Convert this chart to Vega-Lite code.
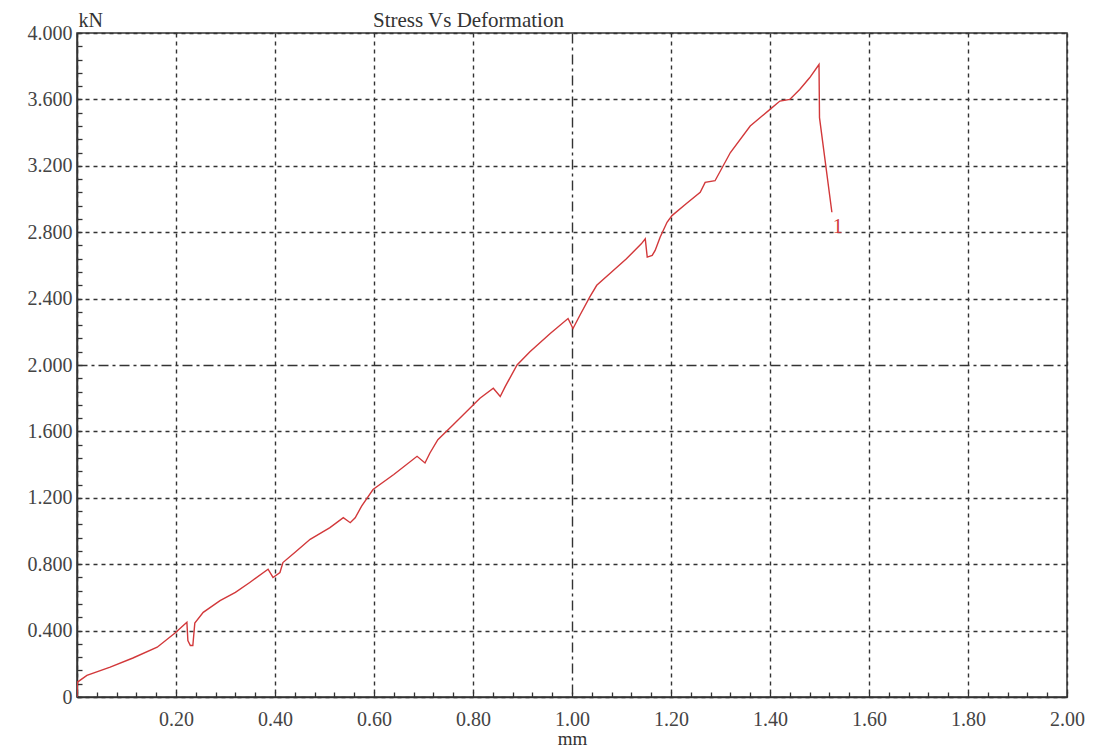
{
  "$schema": "https://vega.github.io/schema/vega-lite/v6.json",
  "width": 990,
  "height": 664,
  "autosize": "none",
  "padding": {"left": 77, "top": 33, "right": 34, "bottom": 54},
  "background": "white",
  "config": {
    "view": {"stroke": "#333333", "strokeWidth": 1.5},
    "font": "Liberation Serif"
  },
  "title": {
    "text": "Stress Vs Deformation",
    "anchor": "start",
    "dx": 346,
    "dy": 21,
    "offset": 0,
    "font": "Liberation Serif",
    "fontSize": 21,
    "fontWeight": "normal",
    "color": "#333333"
  },
  "datasets": {
    "curve": [
      {"i": 0, "mm": 0, "kN": 0},
      {"i": 1, "mm": 0.001, "kN": 0.09},
      {"i": 2, "mm": 0.02, "kN": 0.13},
      {"i": 3, "mm": 0.067, "kN": 0.18},
      {"i": 4, "mm": 0.113, "kN": 0.235},
      {"i": 5, "mm": 0.162, "kN": 0.3},
      {"i": 6, "mm": 0.198, "kN": 0.385},
      {"i": 7, "mm": 0.222, "kN": 0.45},
      {"i": 8, "mm": 0.224, "kN": 0.34},
      {"i": 9, "mm": 0.229, "kN": 0.31},
      {"i": 10, "mm": 0.234, "kN": 0.31},
      {"i": 11, "mm": 0.238, "kN": 0.445},
      {"i": 12, "mm": 0.255, "kN": 0.51},
      {"i": 13, "mm": 0.289, "kN": 0.58},
      {"i": 14, "mm": 0.32, "kN": 0.63},
      {"i": 15, "mm": 0.349, "kN": 0.69},
      {"i": 16, "mm": 0.386, "kN": 0.77},
      {"i": 17, "mm": 0.396, "kN": 0.72},
      {"i": 18, "mm": 0.41, "kN": 0.75},
      {"i": 19, "mm": 0.416, "kN": 0.81},
      {"i": 20, "mm": 0.44, "kN": 0.87},
      {"i": 21, "mm": 0.471, "kN": 0.95},
      {"i": 22, "mm": 0.511, "kN": 1.02},
      {"i": 23, "mm": 0.538, "kN": 1.08},
      {"i": 24, "mm": 0.552, "kN": 1.05},
      {"i": 25, "mm": 0.562, "kN": 1.08},
      {"i": 26, "mm": 0.575, "kN": 1.15},
      {"i": 27, "mm": 0.598, "kN": 1.25},
      {"i": 28, "mm": 0.64, "kN": 1.34},
      {"i": 29, "mm": 0.687, "kN": 1.45},
      {"i": 30, "mm": 0.703, "kN": 1.41},
      {"i": 31, "mm": 0.713, "kN": 1.47},
      {"i": 32, "mm": 0.729, "kN": 1.55},
      {"i": 33, "mm": 0.76, "kN": 1.64},
      {"i": 34, "mm": 0.814, "kN": 1.8},
      {"i": 35, "mm": 0.841, "kN": 1.86},
      {"i": 36, "mm": 0.855, "kN": 1.81},
      {"i": 37, "mm": 0.865, "kN": 1.87},
      {"i": 38, "mm": 0.889, "kN": 2.0},
      {"i": 39, "mm": 0.915, "kN": 2.08},
      {"i": 40, "mm": 0.956, "kN": 2.19},
      {"i": 41, "mm": 0.992, "kN": 2.28},
      {"i": 42, "mm": 1.002, "kN": 2.22},
      {"i": 43, "mm": 1.016, "kN": 2.3},
      {"i": 44, "mm": 1.036, "kN": 2.41},
      {"i": 45, "mm": 1.05, "kN": 2.48},
      {"i": 46, "mm": 1.08, "kN": 2.56},
      {"i": 47, "mm": 1.11, "kN": 2.64},
      {"i": 48, "mm": 1.14, "kN": 2.73},
      {"i": 49, "mm": 1.148, "kN": 2.76},
      {"i": 50, "mm": 1.152, "kN": 2.65},
      {"i": 51, "mm": 1.162, "kN": 2.66},
      {"i": 52, "mm": 1.168, "kN": 2.69},
      {"i": 53, "mm": 1.178, "kN": 2.77},
      {"i": 54, "mm": 1.192, "kN": 2.86},
      {"i": 55, "mm": 1.202, "kN": 2.9},
      {"i": 56, "mm": 1.23, "kN": 2.97},
      {"i": 57, "mm": 1.259, "kN": 3.04},
      {"i": 58, "mm": 1.269, "kN": 3.1},
      {"i": 59, "mm": 1.289, "kN": 3.11},
      {"i": 60, "mm": 1.32, "kN": 3.28},
      {"i": 61, "mm": 1.36, "kN": 3.44},
      {"i": 62, "mm": 1.4, "kN": 3.54},
      {"i": 63, "mm": 1.42, "kN": 3.59},
      {"i": 64, "mm": 1.44, "kN": 3.6},
      {"i": 65, "mm": 1.46, "kN": 3.66},
      {"i": 66, "mm": 1.48, "kN": 3.73},
      {"i": 67, "mm": 1.499, "kN": 3.81},
      {"i": 68, "mm": 1.5, "kN": 3.49},
      {"i": 69, "mm": 1.525, "kN": 2.92}
    ],
    "labels": [
      {"mm": 1.537, "kN": 2.83, "text": "1"}
    ]
  },
  "layer": [
    {
      "data": {"name": "curve"},
      "mark": {"type": "line", "color": "#d2383a", "strokeWidth": 1.4, "clip": true},
      "encoding": {
        "x": {
          "field": "mm",
          "type": "quantitative",
          "scale": {"domain": [0, 2], "nice": false, "zero": true},
          "axis": {
            "title": "mm",
            "titleFont": "Liberation Serif",
            "titleFontSize": 19,
            "titleFontWeight": "normal",
            "titleColor": "#333333",
            "titleBaseline": "middle",
            "titleY": 41,
            "tickCount": 100,
            "values": [0,0.04,0.08,0.12,0.16,0.2,0.24,0.28,0.32,0.36,0.4,0.44,0.48,0.52,0.56,0.6,0.64,0.68,0.72,0.76,0.8,0.84,0.88,0.92,0.96,1,1.04,1.08,1.12,1.16,1.2,1.24,1.28,1.32,1.36,1.4,1.44,1.48,1.52,1.56,1.6,1.64,1.68,1.72,1.76,1.8,1.84,1.88,1.92,1.96,2],
            "labelExpr": "(datum.value == 0 || abs(datum.value*5 - round(datum.value*5)) > 0.001) ? '' : format(datum.value, '.2f')",
            "labelFont": "Liberation Serif",
            "labelFontSize": 20,
            "labelColor": "#444444",
            "labelPadding": 17,
            "labelFlush": false,
            "labelOverlap": false,
            "labelBound": false,
            "domainColor": "#333333",
            "domainWidth": 1.5,
            "ticks": true,
            "tickSize": -5,
            "tickColor": "#333333",
            "tickWidth": 1.3,
            "grid": true,
            "gridColor": "#333333",
            "gridWidth": 1.4,
            "gridOpacity": {"condition": {"test": "abs(datum.value*5 - round(datum.value*5)) < 0.001", "value": 1}, "value": 0},
            "gridDash": {"condition": {"test": "abs(datum.value - 1) < 0.001", "value": [10, 4, 3, 4]}, "value": [4, 4]}
          }
        },
        "y": {
          "field": "kN",
          "type": "quantitative",
          "scale": {"domain": [0, 4], "nice": false, "zero": true},
          "axis": {
            "title": "kN",
            "titleAngle": 0,
            "titleX": 1,
            "titleY": -3,
            "titleAlign": "left",
            "titleBaseline": "bottom",
            "titleFont": "Liberation Serif",
            "titleFontSize": 20,
            "titleFontWeight": "normal",
            "titleColor": "#333333",
            "tickCount": 100,
            "values": [0,0.08,0.16,0.24,0.32,0.4,0.48,0.56,0.64,0.72,0.8,0.88,0.96,1.04,1.12,1.2,1.28,1.36,1.44,1.52,1.6,1.68,1.76,1.84,1.92,2,2.08,2.16,2.24,2.32,2.4,2.48,2.56,2.64,2.72,2.8,2.88,2.96,3.04,3.12,3.2,3.28,3.36,3.44,3.52,3.6,3.68,3.76,3.84,3.92,4],
            "labelExpr": "abs(datum.value/0.4 - round(datum.value/0.4)) > 0.001 ? '' : (datum.value == 0 ? '0' : format(datum.value, '.3f'))",
            "labelFont": "Liberation Serif",
            "labelFontSize": 20,
            "labelColor": "#444444",
            "labelPadding": 10,
            "labelFlush": false,
            "labelOverlap": false,
            "labelBound": false,
            "domainColor": "#333333",
            "domainWidth": 1.5,
            "ticks": true,
            "tickSize": -5,
            "tickColor": "#333333",
            "tickWidth": 1.3,
            "grid": true,
            "gridColor": "#333333",
            "gridWidth": 1.4,
            "gridOpacity": {"condition": {"test": "abs(datum.value/0.4 - round(datum.value/0.4)) < 0.001", "value": 1}, "value": 0},
            "gridDash": {"condition": {"test": "abs(datum.value - 2) < 0.001", "value": [10, 4, 3, 4]}, "value": [4, 4]}
          }
        },
        "order": {"field": "i", "type": "quantitative"}
      }
    },
    {
      "data": {"name": "labels"},
      "mark": {"type": "text", "color": "#d2383a", "font": "Liberation Serif", "fontSize": 20, "align": "center", "baseline": "middle"},
      "encoding": {
        "x": {"field": "mm", "type": "quantitative"},
        "y": {"field": "kN", "type": "quantitative"},
        "text": {"field": "text"}
      }
    }
  ]
}
